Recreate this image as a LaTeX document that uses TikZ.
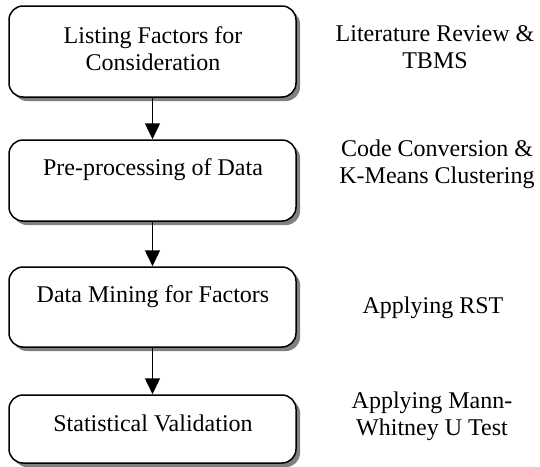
\documentclass[tikz,border=0pt]{standalone}
\usepackage{fontspec}
\setmainfont{Liberation Serif}
\usetikzlibrary{arrows.meta,shadows}
\begin{document}
\begin{tikzpicture}[x=1pt,y=1pt,
  stepbox/.style={draw, line width=1.5pt, rounded corners=14pt, fill=white, inner sep=0pt,
    minimum width=287pt,
    drop shadow={shadow xshift=4pt, shadow yshift=-4pt, fill=black!50, opacity=1}},
  lbl/.style={align=center, inner sep=0pt, font=\fontsize{24}{27}\selectfont},
  flow/.style={line width=1.5pt, -{Triangle[width=15pt,length=16pt]}}]
\useasboundingbox (0,0) rectangle (540,-466);
\node[stepbox, minimum height=91pt] (b1) at (152.5,-51.5) {};
\node[stepbox, minimum height=81pt] (b2) at (152.5,-180.5) {};
\node[stepbox, minimum height=80pt] (b3) at (152.5,-307) {};
\node[stepbox, minimum height=68pt] (b4) at (152.5,-429) {};
\node[lbl] (t1) at (153,-48.5) {Listing Factors for\\Consideration};
\node[lbl] (t2) at (153,-170) {Pre-processing of Data};
\node[lbl] (t3) at (153,-297) {Data Mining for Factors};
\node[lbl] (t4) at (153,-423) {Statistical Validation};
\node[lbl] (r1) at (435,-47.5) {Literature Review \&\\TBMS};
\node[lbl] (r2) at (437,-164.5) {Code Conversion \&\\K-Means Clustering};
\node[lbl] (r3) at (433,-308) {Applying RST};
\node[lbl] (r4) at (432,-416.5) {Applying Mann-\\Whitney U Test};
\draw[flow] (b1.south) -- (b2.north);
\draw[flow] (b2.south) -- (b3.north);
\draw[flow] (b3.south) -- (b4.north);
\end{tikzpicture}
\end{document}
